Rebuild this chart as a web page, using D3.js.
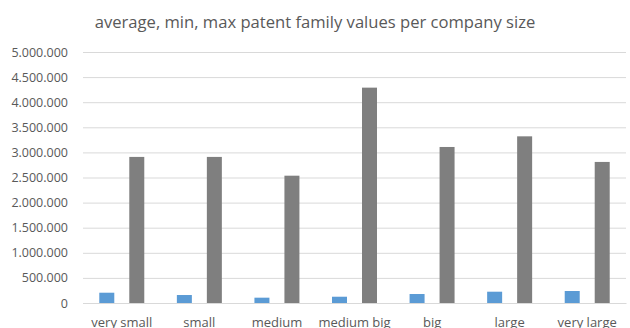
<!DOCTYPE html>
<html>
<head>
<meta charset="utf-8">
<script src="https://cdn.jsdelivr.net/npm/d3@7"></script>
<style>
  body { margin: 0; background: #fff; }
  svg text { font-family: "Open Sans", "Liberation Sans", sans-serif; fill: #595959; }
</style>
</head>
<body>
<div id="chart"></div>
<script>
var categories = ["very small", "small", "medium", "medium big", "big", "large", "very large"];
var seriesNames = ["average", "min", "max"];
var averageValues = [205000, 159000, 106000, 125000, 179000, 225000, 239000];
var minValues = [0, 0, 0, 0, 0, 0, 0];
var maxValues = [2910000, 2910000, 2536000, 4290000, 3108000, 3320000, 2810000];
var yTicks = [0, 500000, 1000000, 1500000, 2000000, 2500000, 3000000, 3500000, 4000000, 4500000, 5000000];

var width = 630, height = 328;
var margin = { left: 83, right: 4, top: 52, bottom: 25 };
var colors = ["#5B9BD5", "#ED7D31", "#7F7F7F"];

var locale = d3.formatLocale({ decimal: ",", thousands: ".", grouping: [3], currency: ["", ""] });
var fmt = locale.format(",d");

var svg = d3.select("#chart").append("svg")
  .attr("width", width)
  .attr("height", height);

var innerW = width - margin.left - margin.right;
var innerH = height - margin.top - margin.bottom;

var g = svg.append("g")
  .attr("transform", "translate(" + margin.left + "," + margin.top + ")");

var x = d3.scaleBand()
  .domain(categories)
  .range([0, innerW])
  .paddingInner(0.42)
  .paddingOuter(0.21);

var xs = d3.scaleBand()
  .domain(seriesNames)
  .range([0, x.bandwidth()]);

var y = d3.scaleLinear()
  .domain([0, 5000000])
  .range([innerH, 0]);

// gridlines
g.append("g")
  .call(d3.axisLeft(y).tickValues(yTicks).tickSize(-innerW).tickFormat(""))
  .call(function (a) {
    a.select(".domain").remove();
    a.selectAll("line").attr("stroke", "#D9D9D9").attr("stroke-width", 1);
  });

// y labels
g.append("g")
  .call(d3.axisLeft(y).tickValues(yTicks).tickSize(0).tickPadding(15).tickFormat(fmt))
  .call(function (a) {
    a.select(".domain").remove();
    a.selectAll("text").attr("font-size", "12.5px").style("fill", "#595959");
  });

var data = categories.map(function (c, i) {
  return { cat: c, values: [averageValues[i], minValues[i], maxValues[i]] };
});

var groups = g.selectAll(".grp")
  .data(data)
  .enter().append("g")
  .attr("transform", function (d) { return "translate(" + x(d.cat) + ",0)"; });

groups.selectAll("rect")
  .data(function (d) { return d.values.map(function (v, i) { return { s: seriesNames[i], v: v, i: i }; }); })
  .enter().append("rect")
  .filter(function (d) { return d.v > 0; })
  .attr("x", function (d) { return xs(d.s); })
  .attr("y", function (d) { return y(d.v); })
  .attr("width", xs.bandwidth())
  .attr("height", function (d) { return innerH - y(d.v); })
  .attr("fill", function (d) { return colors[d.i]; });

// x labels
g.append("g")
  .attr("transform", "translate(0," + innerH + ")")
  .call(d3.axisBottom(x).tickSize(0).tickPadding(15))
  .call(function (a) {
    a.select(".domain").attr("stroke", "#D9D9D9");
    a.selectAll("text").attr("font-size", "13px").style("fill", "#595959");
  });

// title
svg.append("text")
  .attr("x", 315)
  .attr("y", 28)
  .attr("text-anchor", "middle")
  .attr("font-size", "16.6px")
  .text("average, min, max patent family values per company size");
</script>
</body>
</html>
